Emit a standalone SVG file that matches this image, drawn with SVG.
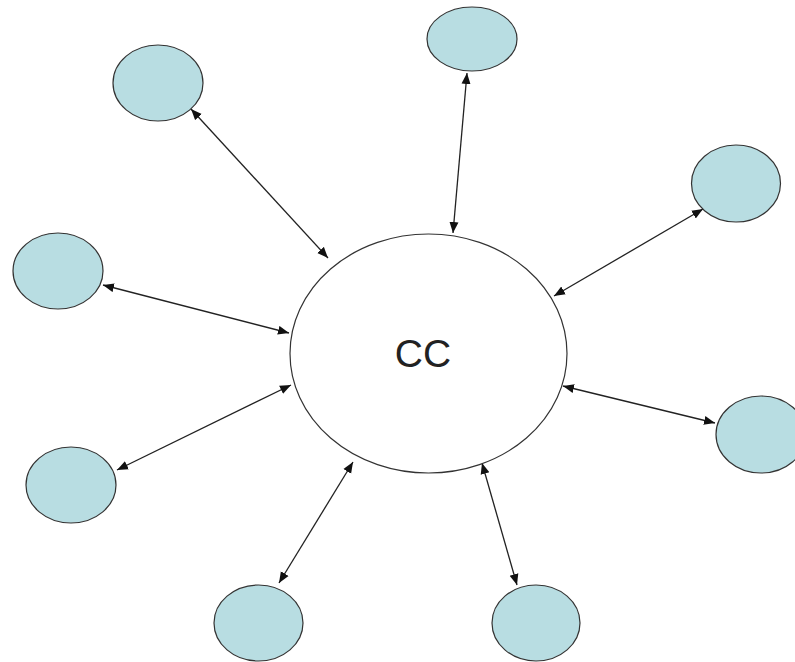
<svg xmlns="http://www.w3.org/2000/svg" width="795" height="662" viewBox="0 0 795 662">
<style>
.sat{fill:#b8dde2;stroke:#333;stroke-width:1.2}
.cc{fill:#fff;stroke:#333;stroke-width:1.2}
.lk{stroke:#222;stroke-width:1.3;fill:none;marker-start:url(#ah);marker-end:url(#ah)}
.lbl{font-family:"Liberation Sans",Arial,sans-serif;font-size:39px;fill:#222;text-anchor:middle}
</style>
<defs>
<marker id="ah" markerUnits="userSpaceOnUse" markerWidth="12" markerHeight="10" refX="11" refY="4.5" orient="auto-start-reverse" viewBox="0 0 12 9">
<path d="M0,0 L11,4.5 L0,9 Z" fill="#111"/>
</marker>
</defs>
<rect width="795" height="662" fill="#fff"/>
<g id="connectors">
<line class="lk" x1="191" y1="109" x2="328" y2="258"/>
<line class="lk" x1="467" y1="73" x2="453" y2="233"/>
<line class="lk" x1="703" y1="209" x2="554" y2="296"/>
<line class="lk" x1="103" y1="285" x2="289" y2="333"/>
<line class="lk" x1="117" y1="470" x2="291" y2="385"/>
<line class="lk" x1="715" y1="423" x2="563" y2="386"/>
<line class="lk" x1="279" y1="583" x2="353" y2="462"/>
<line class="lk" x1="517" y1="585" x2="482" y2="463"/>
</g>
<g id="node-cc">
<ellipse class="cc" cx="428.5" cy="353.5" rx="138.5" ry="119.5"/>
<text class="lbl" x="423" y="367">CC</text>
</g>
<g id="node-topleft"><ellipse class="sat" cx="158" cy="83" rx="45" ry="38"/></g>
<g id="node-top"><ellipse class="sat" cx="472" cy="39" rx="45" ry="32"/></g>
<g id="node-topright"><ellipse class="sat" cx="736" cy="183.5" rx="44.5" ry="38.5"/></g>
<g id="node-left"><ellipse class="sat" cx="58" cy="271" rx="45" ry="38"/></g>
<g id="node-lowerleft"><ellipse class="sat" cx="71" cy="485" rx="45" ry="38"/></g>
<g id="node-right"><ellipse class="sat" cx="761" cy="434.5" rx="45" ry="38.5"/></g>
<g id="node-bottomleft"><ellipse class="sat" cx="258.5" cy="623" rx="44.5" ry="38"/></g>
<g id="node-bottomright"><ellipse class="sat" cx="536" cy="623" rx="44" ry="38"/></g>
</svg>
